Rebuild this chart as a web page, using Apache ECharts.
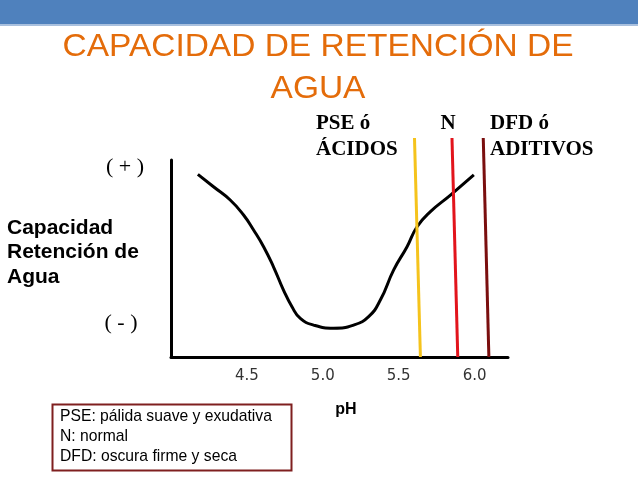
<!DOCTYPE html>
<html>
<head>
<meta charset="utf-8">
<script src="https://cdn.jsdelivr.net/npm/echarts@6/dist/echarts.min.js"></script>
<style>
html,body{margin:0;padding:0;background:#fff;}
#chart{width:638px;height:479px;}
</style>
</head>
<body>
<div id="chart"></div>
<script>
// pH curve (water holding capacity, relative 0-100 scale)
const curvePH  = [4.177, 4.280, 4.390, 4.478, 4.544, 4.610, 4.675, 4.741, 4.797, 4.852, 4.939, 5.071, 5.203, 5.302, 5.379, 5.467, 5.555, 5.621, 5.709, 5.841, 5.995];
const curveCap = [92.7, 86.4, 79.7, 72.1, 64.5, 56.0, 45.8, 34.0, 25.5, 19.6, 16.2, 14.6, 16.2, 20.5, 28.9, 44.2, 56.0, 66.1, 73.8, 82.2, 92.4];
// slanted marker lines: [top pH, bottom pH]
const pseLinePH = [5.604, 5.643];
const nLinePH   = [5.851, 5.889];
const dfdLinePH = [6.057, 6.094];
const markerLineCap = [111.2, 0];
const tickLabels = ['4.5', '5.0', '5.5', '6.0'];

const titleLines = ['CAPACIDAD DE RETENCIÓN DE', 'AGUA'];
const yLabelLines = ['Capacidad', 'Retención de', 'Agua'];
const legendLines = ['PSE: pálida suave y exudativa', 'N: normal', 'DFD: oscura firme y seca'];

function pairs(xs, ys){ return xs.map((x,i)=>[x, ys[i]]); }

const chart = echarts.init(document.getElementById('chart'), null, {renderer:'canvas'});

const option = {
  animation: false,
  backgroundColor: '#fff',
  grid: {left: 171, right: 130, top: 160, bottom: 122, containLabel: false},
  xAxis: {
    type: 'value', min: 4.0, max: 6.22, interval: 0.5,
    axisLine: {show: true, lineStyle: {color: '#000', width: 3}},
    axisTick: {show: false},
    splitLine: {show: false},
    axisLabel: {
      showMinLabel: false, showMaxLabel: false,
      margin: 12, fontSize: 15, fontFamily: 'DejaVu Sans', color: '#333',
      formatter: v => { const s = v.toFixed(1); return tickLabels.includes(s) ? s : ''; }
    }
  },
  yAxis: {
    type: 'value', min: 0, max: 100,
    axisLine: {show: true, lineStyle: {color: '#000', width: 3}},
    axisTick: {show: false}, axisLabel: {show: false}, splitLine: {show: false}
  },
  series: [
    {type: 'line', data: pairs(curvePH, curveCap), smooth: 0.5, showSymbol: false,
     lineStyle: {color: '#000', width: 3}, z: 3},
    {type: 'line', data: pairs(pseLinePH, markerLineCap), showSymbol: false, clip: false,
     lineStyle: {color: '#F5C31C', width: 3}, z: 4},
    {type: 'line', data: pairs(nLinePH, markerLineCap), showSymbol: false, clip: false,
     lineStyle: {color: '#E2141C', width: 3}, z: 4},
    {type: 'line', data: pairs(dfdLinePH, markerLineCap), showSymbol: false, clip: false,
     lineStyle: {color: '#7A0E0E', width: 3}, z: 4}
  ],
  graphic: [
    {type: 'rect', shape: {x: 0, y: 0, width: 638, height: 24}, style: {fill: '#4F81BD'}},
    {type: 'rect', shape: {x: 0, y: 24, width: 638, height: 2}, style: {fill: '#A9C0DE'}},
    {type: 'text', x: 318, y: 47, scaleX: 1.08, style: {text: titleLines[0], font: '31px "Liberation Sans"', fill: '#E46C0A', textAlign: 'center', textVerticalAlign: 'middle'}},
    {type: 'text', x: 318, y: 89, scaleX: 1.08, style: {text: titleLines[1], font: '31px "Liberation Sans"', fill: '#E46C0A', textAlign: 'center', textVerticalAlign: 'middle'}},
    {type: 'text', x: 125, y: 167, style: {text: '( + )', font: '22px "Liberation Serif"', fill: '#000', textAlign: 'center', textVerticalAlign: 'middle'}},
    {type: 'text', x: 121, y: 323, style: {text: '( - )', font: '22px "Liberation Serif"', fill: '#000', textAlign: 'center', textVerticalAlign: 'middle'}},
    {type: 'text', x: 7, y: 228, style: {text: yLabelLines[0], font: 'bold 21px "Liberation Sans"', fill: '#000', textVerticalAlign: 'middle'}},
    {type: 'text', x: 7, y: 252, style: {text: yLabelLines[1], font: 'bold 21px "Liberation Sans"', fill: '#000', textVerticalAlign: 'middle'}},
    {type: 'text', x: 7, y: 277, style: {text: yLabelLines[2], font: 'bold 21px "Liberation Sans"', fill: '#000', textVerticalAlign: 'middle'}},
    {type: 'text', x: 316, y: 124, style: {text: 'PSE ó', font: 'bold 21px "Liberation Serif"', fill: '#000', textVerticalAlign: 'middle'}},
    {type: 'text', x: 316, y: 150, style: {text: 'ÁCIDOS', font: 'bold 21px "Liberation Serif"', fill: '#000', textVerticalAlign: 'middle'}},
    {type: 'text', x: 448, y: 124, style: {text: 'N', font: 'bold 21px "Liberation Serif"', fill: '#000', textAlign: 'center', textVerticalAlign: 'middle'}},
    {type: 'text', x: 490, y: 124, style: {text: 'DFD ó', font: 'bold 21px "Liberation Serif"', fill: '#000', textVerticalAlign: 'middle'}},
    {type: 'text', x: 490, y: 150, style: {text: 'ADITIVOS', font: 'bold 21px "Liberation Serif"', fill: '#000', textVerticalAlign: 'middle'}},
    {type: 'text', x: 346, y: 410, style: {text: 'pH', font: 'bold 16px "Liberation Sans"', fill: '#000', textAlign: 'center', textVerticalAlign: 'middle'}},
    {type: 'rect', shape: {x: 52.5, y: 404.5, width: 239, height: 66}, style: {fill: '#fff', stroke: '#7F1F1F', lineWidth: 2}},
    {type: 'text', x: 60, y: 417, style: {text: legendLines[0], font: '15.7px "Liberation Sans"', fill: '#000', textVerticalAlign: 'middle'}},
    {type: 'text', x: 60, y: 437, style: {text: legendLines[1], font: '15.7px "Liberation Sans"', fill: '#000', textVerticalAlign: 'middle'}},
    {type: 'text', x: 60, y: 457, style: {text: legendLines[2], font: '15.7px "Liberation Sans"', fill: '#000', textVerticalAlign: 'middle'}}
  ]
};
chart.setOption(option);
</script>
</body>
</html>
